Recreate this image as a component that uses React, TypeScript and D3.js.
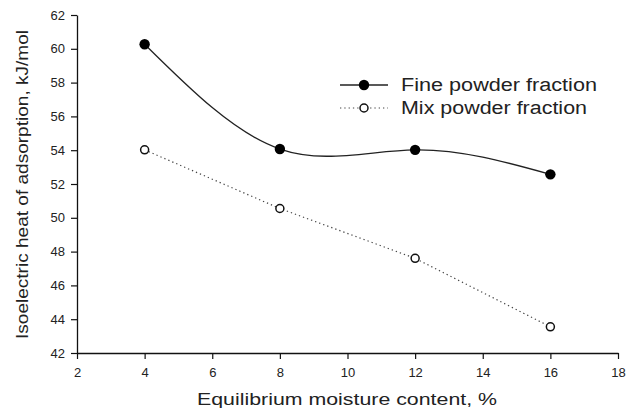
import * as d3 from "d3";
import * as React from "react";

const moisture = [4, 8, 12, 16];
const fineHeat = [60.27, 54.07, 54.02, 52.57];
const mixHeat = [54.02, 50.55, 47.6, 43.55];
const xTicks = [2, 4, 6, 8, 10, 12, 14, 16, 18];
const yTicks = [42, 44, 46, 48, 50, 52, 54, 56, 58, 60, 62];

const width = 639;
const height = 414;
const margin = { left: 77, right: 21, top: 15, bottom: 61 };
const font = '"Liberation Sans", Arial, sans-serif';

export default function App() {
  const ref = React.useRef<SVGSVGElement>(null);

  React.useEffect(() => {
    const svg = d3.select(ref.current);
    svg.selectAll("*").remove();

    const x = d3.scaleLinear().domain([2, 18]).range([margin.left, width - margin.right]);
    const y = d3.scaleLinear().domain([42, 62]).range([height - margin.bottom, margin.top]);

    // axes
    const xAxis = svg
      .append("g")
      .attr("transform", `translate(0, ${height - margin.bottom})`)
      .call(d3.axisBottom(x).tickValues(xTicks).tickSize(6).tickSizeOuter(0).tickPadding(9));
    const yAxis = svg
      .append("g")
      .attr("transform", `translate(${margin.left}, 0)`)
      .call(d3.axisLeft(y).tickValues(yTicks).tickSize(6).tickSizeOuter(0).tickPadding(6));
    [xAxis, yAxis].forEach((g) => {
      g.select(".domain").attr("stroke", "#111").attr("stroke-width", 1.3);
      g.selectAll(".tick line").attr("stroke", "#111").attr("stroke-width", 1.2);
      g.selectAll("text")
        .attr("font-family", font)
        .attr("font-size", 13)
        .attr("fill", "#222");
    });

    // axis titles
    svg
      .append("text")
      .attr("x", 347)
      .attr("y", 405)
      .attr("text-anchor", "middle")
      .attr("font-family", font)
      .attr("font-size", 17)
      .attr("fill", "#222")
      .attr("textLength", 300)
      .attr("lengthAdjust", "spacingAndGlyphs")
      .text("Equilibrium moisture content, %");
    svg
      .append("text")
      .attr("transform", `translate(28, 184.5) rotate(-90)`)
      .attr("text-anchor", "middle")
      .attr("font-family", font)
      .attr("font-size", 17)
      .attr("fill", "#222")
      .attr("textLength", 309)
      .attr("lengthAdjust", "spacingAndGlyphs")
      .text("Isoelectric heat of adsorption, kJ/mol");

    const fine = moisture.map((m, i) => [m, fineHeat[i]] as [number, number]);
    const mix = moisture.map((m, i) => [m, mixHeat[i]] as [number, number]);

    // fine powder: smooth spline
    const splineLine = d3
      .line<[number, number]>()
      .x((d) => x(d[0]))
      .y((d) => y(d[1]))
      .curve(d3.curveNatural);
    svg
      .append("path")
      .attr("d", splineLine(fine))
      .attr("fill", "none")
      .attr("stroke", "#222")
      .attr("stroke-width", 1.3);

    // mix powder: dotted straight segments
    const straight = d3
      .line<[number, number]>()
      .x((d) => x(d[0]))
      .y((d) => y(d[1]));
    svg
      .append("path")
      .attr("d", straight(mix))
      .attr("fill", "none")
      .attr("stroke", "#444")
      .attr("stroke-width", 1.2)
      .attr("stroke-dasharray", "1.3,3");

    svg
      .append("g")
      .selectAll("circle")
      .data(fine)
      .enter()
      .append("circle")
      .attr("cx", (d) => x(d[0]))
      .attr("cy", (d) => y(d[1]))
      .attr("r", 5.2)
      .attr("fill", "#000");

    svg
      .append("g")
      .selectAll("circle")
      .data(mix)
      .enter()
      .append("circle")
      .attr("cx", (d) => x(d[0]))
      .attr("cy", (d) => y(d[1]))
      .attr("r", 4)
      .attr("fill", "#fff")
      .attr("stroke", "#111")
      .attr("stroke-width", 1.5);

    // legend
    const lg = svg.append("g").attr("transform", "translate(340, 85)");
    lg.append("line").attr("x1", 0).attr("x2", 48).attr("y1", 0).attr("y2", 0).attr("stroke", "#222").attr("stroke-width", 1.3);
    lg.append("circle").attr("cx", 24).attr("cy", 0).attr("r", 5.2).attr("fill", "#000");
    lg.append("text")
      .attr("x", 61)
      .attr("y", 0)
      .attr("dy", "0.35em")
      .attr("font-family", font)
      .attr("font-size", 18)
      .attr("fill", "#222")
      .attr("textLength", 196)
      .attr("lengthAdjust", "spacingAndGlyphs")
      .text("Fine powder fraction");
    lg.append("line")
      .attr("x1", 0)
      .attr("x2", 48)
      .attr("y1", 23)
      .attr("y2", 23)
      .attr("stroke", "#444")
      .attr("stroke-width", 1.2)
      .attr("stroke-dasharray", "1.3,3");
    lg.append("circle")
      .attr("cx", 24)
      .attr("cy", 23)
      .attr("r", 4)
      .attr("fill", "#fff")
      .attr("stroke", "#111")
      .attr("stroke-width", 1.5);
    lg.append("text")
      .attr("x", 61)
      .attr("y", 23)
      .attr("dy", "0.35em")
      .attr("font-family", font)
      .attr("font-size", 18)
      .attr("fill", "#222")
      .attr("textLength", 186)
      .attr("lengthAdjust", "spacingAndGlyphs")
      .text("Mix powder fraction");
  }, []);

  return (
    <svg
      ref={ref}
      width={width}
      height={height}
      style={{ position: "absolute", left: 0, top: 0, background: "#fff" }}
    />
  );
}
